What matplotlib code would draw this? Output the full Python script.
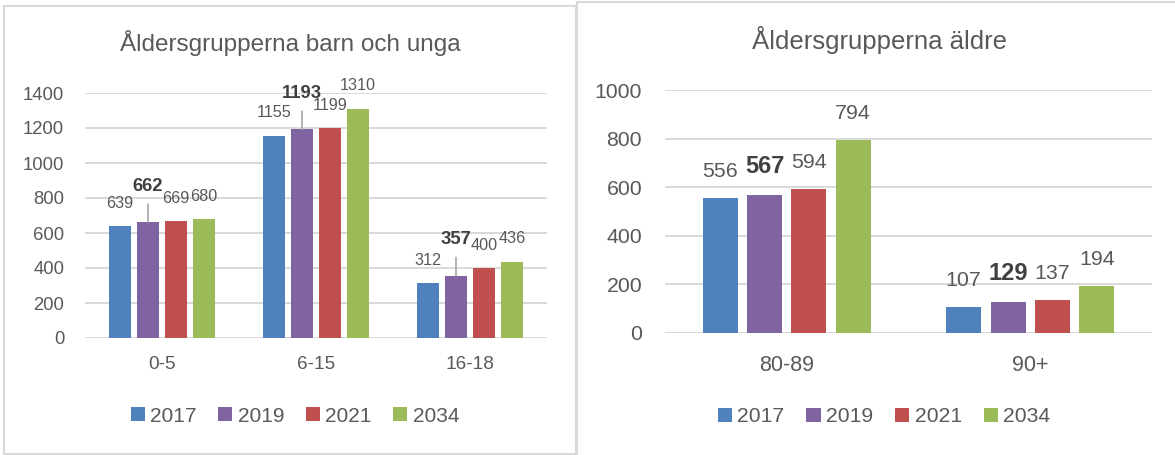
import numpy as np
import matplotlib.pyplot as plt
from matplotlib.lines import Line2D

years = ["2017", "2019", "2021", "2034"]
colors = ["#4f81bd", "#8064a2", "#c0504d", "#9bbb59"]

# barn och unga
young_groups = ["0-5", "6-15", "16-18"]
young_2017 = [639, 1155, 312]
young_2019 = [662, 1193, 357]
young_2021 = [669, 1199, 400]
young_2034 = [680, 1310, 436]
young_ticks = [0, 200, 400, 600, 800, 1000, 1200, 1400]

# äldre
old_groups = ["80-89", "90+"]
old_2017 = [556, 107]
old_2019 = [567, 129]
old_2021 = [594, 137]
old_2034 = [794, 194]
old_ticks = [0, 200, 400, 600, 800, 1000]

plt.rcParams['font.family'] = ['Liberation Sans', 'DejaVu Sans']
txt = "#595959"
grid = "#d9d9d9"

fig = plt.figure(figsize=(11.75, 4.55), dpi=100)

# panel borders
fig.add_artist(Line2D([4/1175, 576/1175, 576/1175], [1-6/455, 1-6/455, 1-454/455],
                      transform=fig.transFigure, color=grid, lw=1.5))
fig.add_artist(Line2D([4/1175, 4/1175, 576/1175], [1-6/455, 1-454/455, 1-454/455],
                      transform=fig.transFigure, color=grid, lw=1.5))
fig.add_artist(Line2D([577/1175, 577/1175, 1.0], [0.0, 1-2/455, 1-2/455],
                      transform=fig.transFigure, color=grid, lw=1.5))


def draw(ax, groups, series, ticks, ymax, tick_size, cat_size, lab_size, bold_size,
         lab_off, bold_off, leader, ypad, xpad):
    x = np.arange(len(groups))
    width = 0.143
    step = 0.182
    for i, vals in enumerate(series):
        pos = x + (i - 1.5) * step
        ax.bar(pos, vals, width, color=colors[i], label=years[i], zorder=3)
        for p, v in zip(pos, vals):
            if i == 1:
                ax.annotate(str(v), (p, v), xytext=(0, bold_off), textcoords='offset points',
                            ha='center', va='center', fontsize=bold_size, fontweight='bold',
                            color="#404040", annotation_clip=False)
                if leader:
                    ax.annotate("", (p, v), xytext=(0, 13), textcoords='offset points',
                                arrowprops=dict(arrowstyle='-', color="#a6a6a6", lw=1.2,
                                                shrinkA=0, shrinkB=0))
            else:
                ax.annotate(str(v), (p, v), xytext=(0, lab_off), textcoords='offset points',
                            ha='center', va='center', fontsize=lab_size, color=txt,
                            annotation_clip=False)
    ax.set_xlim(-0.5, len(groups) - 0.5)
    ax.set_ylim(0, ymax)
    ax.set_yticks(ticks)
    ax.set_xticks(x)
    ax.set_xticklabels(groups)
    ax.yaxis.grid(True, color=grid, lw=1.4, zorder=0)
    ax.set_axisbelow(True)
    for s in ax.spines.values():
        s.set_visible(False)
    ax.tick_params(axis='y', length=0, labelsize=tick_size, labelcolor=txt, pad=ypad)
    ax.tick_params(axis='x', length=0, labelsize=cat_size, labelcolor=txt, pad=xpad)


ax1 = fig.add_axes([85/1175, 117/455, 462/1175, 245/455])
draw(ax1, young_groups, [young_2017, young_2019, young_2021, young_2034], young_ticks, 1400,
     13.3, 13.7, 11.7, 13.3, 16.5, 26, True, 15, 13)

ax2 = fig.add_axes([665/1175, 122/455, 487/1175, 243/455])
draw(ax2, old_groups, [old_2017, old_2019, old_2021, old_2034], old_ticks, 1000,
     15.3, 15.5, 15.4, 17, 19, 20.5, False, 16.5, 16)

fig.text(290/1175, 1-43/455, "Åldersgrupperna barn och unga", ha='center', va='center',
         fontsize=17.5, color=txt)
fig.text(880/1175, 1-40/455, "Åldersgrupperna äldre", ha='center', va='center',
         fontsize=18.5, color=txt)

h, l = ax1.get_legend_handles_labels()
fig.legend(h, l, loc='center', bbox_to_anchor=(295/1175, 1-416/455), ncol=4, frameon=False,
           fontsize=15, labelcolor=txt, handlelength=0.67, handleheight=0.67,
           handletextpad=0.25, columnspacing=1.05)
fig.legend(h, l, loc='center', bbox_to_anchor=(884/1175, 1-417/455), ncol=4, frameon=False,
           fontsize=15.2, labelcolor=txt, handlelength=0.67, handleheight=0.67,
           handletextpad=0.25, columnspacing=1.05)

plt.savefig("out.png", dpi=100)
